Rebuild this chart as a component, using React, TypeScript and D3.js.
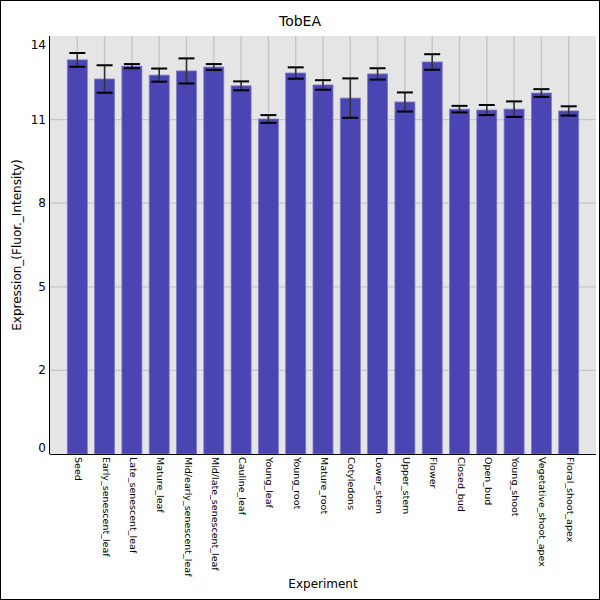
import React from "react";
import * as d3 from "d3";

const categories = [
  "Seed",
  "Early_senescent_leaf",
  "Late_senescent_leaf",
  "Mature_leaf",
  "Mid/early_senescent_leaf",
  "Mid/late_senescent_leaf",
  "Cauline_leaf",
  "Young_leaf",
  "Young_root",
  "Mature_root",
  "Cotyledons",
  "Lower_stem",
  "Upper_stem",
  "Flower",
  "Closed_bud",
  "Open_bud",
  "Young_shoot",
  "Vegetative_shoot_apex",
  "Floral_shoot_apex",
];

const values = [
  13.2, 12.56, 12.99, 12.69, 12.83, 12.96, 12.33, 11.22, 12.76, 12.36, 11.92,
  12.73, 11.79, 13.13, 11.55, 11.52, 11.55, 12.09, 11.49,
];

const errors = [
  0.23, 0.46, 0.07, 0.22, 0.42, 0.1, 0.15, 0.13, 0.19, 0.16, 0.66, 0.19, 0.32,
  0.26, 0.11, 0.17, 0.26, 0.13, 0.155,
];

const yTicks = [0, 2.8, 5.6, 8.4, 11.2, 14];

const title = "TobEA";
const xTitle = "Experiment";
const yTitle = "Expression_(Fluor._Intensity)";

export default function App() {
  const W = 600;
  const H = 600;
  const left = 50;
  const right = 596;
  const top = 36;
  const bottom = 454;

  const x = d3.scalePoint<string>().domain(categories).range([left, right]).padding(1);
  const y = d3.scaleLinear().domain([0, 14]).range([bottom, top]);
  const barW = 20;
  const capW = 16;
  const font = "'DejaVu Sans', sans-serif";

  return (
    <svg
      width={W}
      height={H}
      style={{ position: "absolute", left: 0, top: 0 }}
      fontFamily={font}
    >
      <rect x={0} y={0} width={W} height={H} fill="#ffffff" />
      <rect x={0.5} y={0.5} width={W - 1} height={H - 1} fill="none" stroke="#000" strokeWidth={1} />
      <rect x={left} y={top} width={right - left} height={bottom - top} fill="#e5e5e5" />
      {yTicks
        .filter((t) => t > 0 && t < 14)
        .map((t) => (
          <line key={"g" + t} x1={left} x2={right} y1={y(t)} y2={y(t)} stroke="#c6c6c6" strokeWidth={1.2} />
        ))}
      {categories.map((c) => (
        <line key={"v" + c} x1={x(c)!} x2={x(c)!} y1={top} y2={bottom} stroke="#c6c6c6" strokeWidth={1.4} />
      ))}
      {categories.map((c, i) => (
        <rect
          key={"b" + c}
          x={x(c)! - barW / 2}
          y={y(values[i])}
          width={barW}
          height={bottom - y(values[i])}
          fill="#4a45b2"
          stroke="#7f7bc8"
          strokeWidth={0.8}
        />
      ))}
      {categories.map((c, i) => {
        const cx = x(c)!;
        const y1 = y(values[i] + errors[i]);
        const y2 = y(values[i] - errors[i]);
        return (
          <g key={"e" + c}>
            <line x1={cx} x2={cx} y1={y1} y2={y2} stroke="#333" strokeWidth={1.6} />
            <line x1={cx - capW / 2} x2={cx + capW / 2} y1={y1} y2={y1} stroke="#000" strokeWidth={2} />
            <line x1={cx - capW / 2} x2={cx + capW / 2} y1={y2} y2={y2} stroke="#000" strokeWidth={2} />
          </g>
        );
      })}
      <line x1={left - 0.5} x2={left - 0.5} y1={top} y2={bottom} stroke="#000" strokeWidth={1} />
      <line x1={left} x2={right} y1={bottom + 0.5} y2={bottom + 0.5} stroke="#000" strokeWidth={1} />
      {yTicks.map((t) => {
        const ly = Math.min(Math.max(y(t), top + 9), bottom - 6.5);
        return (
          <text key={"t" + t} x={46} y={ly} textAnchor="end" dominantBaseline="central" fontSize={12} fill="#000">
            {Math.floor(t + 1e-9)}
          </text>
        );
      })}
      {categories.map((c) => (
        <text
          key={"l" + c}
          transform={`translate(${x(c)! + 1.5},457) rotate(90)`}
          dominantBaseline="central"
          fontSize={9.5}
          fill="#000"
        >
          {c}
        </text>
      ))}
      <text x={300} y={25.5} textAnchor="middle" fontSize={14} fill="#000">
        {title}
      </text>
      <text x={(left + right) / 2} y={588} textAnchor="middle" fontSize={12} fill="#000">
        {xTitle}
      </text>
      <text
        transform={`translate(21,${(top + bottom) / 2}) rotate(-90)`}
        textAnchor="middle"
        fontSize={12}
        fill="#000"
      >
        {yTitle}
      </text>
    </svg>
  );
}
